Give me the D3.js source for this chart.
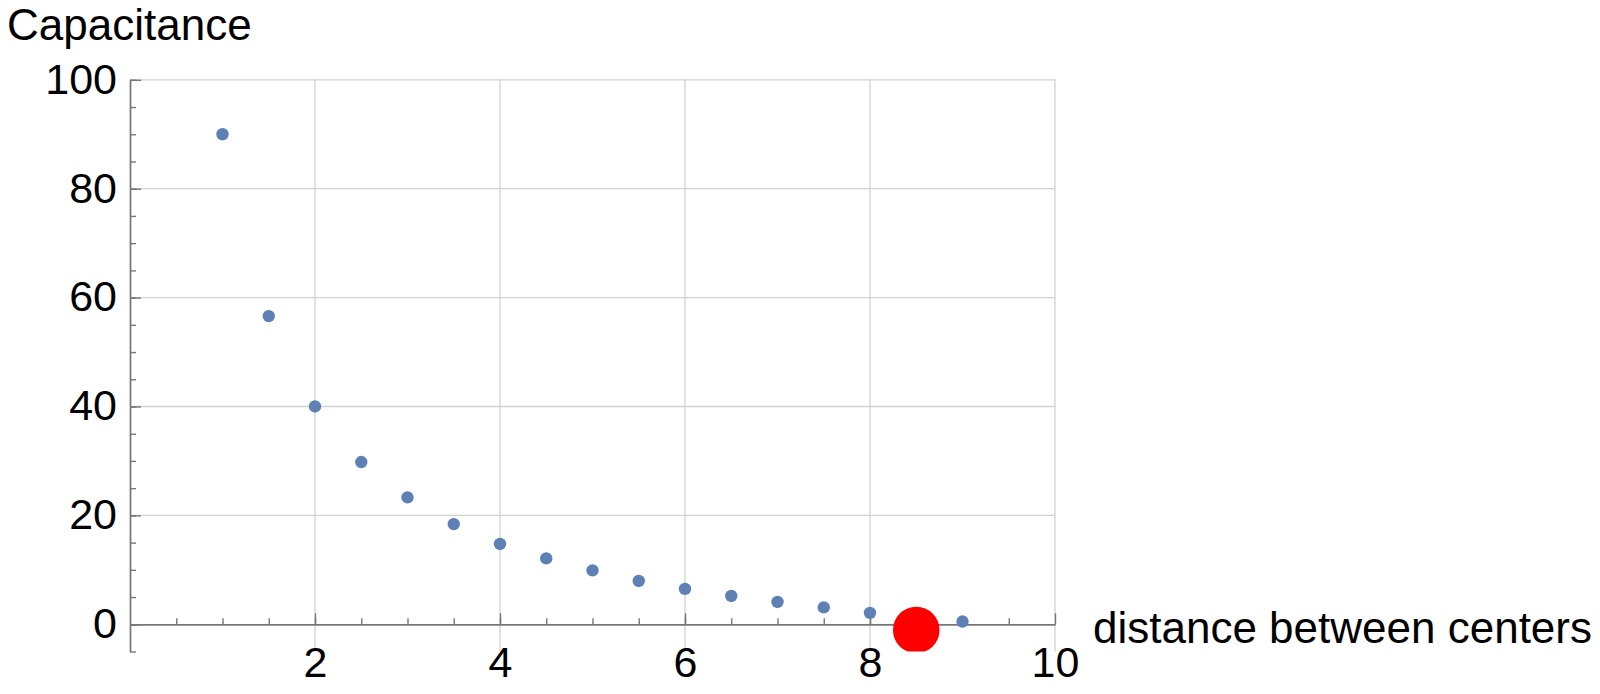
<!DOCTYPE html>
<html>
<head>
<meta charset="utf-8">
<script src="https://cdn.jsdelivr.net/npm/d3@7"></script>
<style>
  body { margin: 0; background: #fff; }
  svg { display: block; font-family: "Liberation Sans", Arial, sans-serif; }
</style>
</head>
<body>
<svg id="chart"></svg>
<script>
// distance between centers vs capacitance
var distances = [1, 1.5, 2, 2.5, 3, 3.5, 4, 4.5, 5, 5.5, 6, 6.5, 7, 7.5, 8, 9];
var capacitance = [90, 56.6, 40, 29.8, 23.3, 18.4, 14.75, 12.1, 9.9, 7.95, 6.5, 5.2, 4.1, 3.1, 2.1, 0.5];

// the highlighted point
var markedDistance = [8.5];
var markedCapacitance = [-1.05];

var xMajorTicks = [2, 4, 6, 8, 10];
var yMajorTicks = [0, 20, 40, 60, 80, 100];

var width = 1600,
    height = 694;

var svg = d3.select("#chart")
    .attr("width", width)
    .attr("height", height);

// scales
var x = d3.scaleLinear().domain([0, 10]).range([130, 1055]);
var y = d3.scaleLinear().domain([-5, 100]).range([651.5, 79.8]);

var axisColour = "#777",
    gridColour = "#d2d2d2";

// grid lines
svg.append("g")
    .selectAll("line")
    .data(xMajorTicks)
    .enter().append("line")
    .attr("x1", function (d) { return x(d); })
    .attr("x2", function (d) { return x(d); })
    .attr("y1", y(-5))
    .attr("y2", y(100))
    .attr("stroke", gridColour)
    .attr("stroke-width", 1.3);

svg.append("g")
    .selectAll("line")
    .data(yMajorTicks.filter(function (d) { return d > 0; }))
    .enter().append("line")
    .attr("x1", x(0))
    .attr("x2", x(10))
    .attr("y1", function (d) { return y(d); })
    .attr("y2", function (d) { return y(d); })
    .attr("stroke", gridColour)
    .attr("stroke-width", 1.3);

// minor ticks
var yMinor = d3.axisLeft(y)
    .tickValues(d3.range(-5, 101, 5))
    .tickSizeInner(-6)
    .tickSizeOuter(0)
    .tickFormat("");

var xMinor = d3.axisBottom(x)
    .tickValues(d3.range(0.5, 10, 0.5))
    .tickSizeInner(-6)
    .tickSizeOuter(0)
    .tickFormat("");

svg.append("g")
    .attr("transform", "translate(" + x(0) + ",0)")
    .call(yMinor);

svg.append("g")
    .attr("transform", "translate(0," + y(0) + ")")
    .call(xMinor);

// major ticks and labels
var yAxis = d3.axisLeft(y)
    .tickValues(yMajorTicks)
    .tickSizeInner(-11)
    .tickSizeOuter(0)
    .tickPadding(13);

var xAxis = d3.axisBottom(x)
    .tickValues(xMajorTicks)
    .tickSizeInner(-11)
    .tickSizeOuter(0)
    .tickPadding(22.5);

var gy = svg.append("g")
    .attr("transform", "translate(" + x(0) + ",0)")
    .call(yAxis);

var gx = svg.append("g")
    .attr("transform", "translate(0," + y(0) + ")")
    .call(xAxis);

svg.selectAll(".domain, .tick line")
    .attr("stroke", axisColour)
    .attr("stroke-width", 1.4);

svg.selectAll(".tick text")
    .attr("fill", "#000")
    .style("font-size", "43px");

gy.selectAll(".tick text").attr("dy", "0.31em");

// clip everything to the plot range
svg.append("clipPath")
    .attr("id", "plot-clip")
    .append("rect")
    .attr("x", x(0) - 30)
    .attr("y", y(100) - 10)
    .attr("width", x(10) - x(0) + 60)
    .attr("height", y(-5) - y(100) + 10);

var points = svg.append("g").attr("clip-path", "url(#plot-clip)");

points.selectAll("circle.pt")
    .data(distances)
    .enter().append("circle")
    .attr("class", "pt")
    .attr("cx", function (d) { return x(d); })
    .attr("cy", function (d, i) { return y(capacitance[i]); })
    .attr("r", 6.2)
    .attr("fill", "#5e81b5");

points.selectAll("circle.mark")
    .data(markedDistance)
    .enter().append("circle")
    .attr("class", "mark")
    .attr("cx", function (d) { return x(d); })
    .attr("cy", function (d, i) { return y(markedCapacitance[i]); })
    .attr("r", 23.3)
    .attr("fill", "#ff0000");

// axis labels
svg.append("text")
    .attr("x", 7)
    .attr("y", 39.5)
    .style("font-size", "44px")
    .attr("fill", "#000")
    .text("Capacitance");

svg.append("text")
    .attr("x", 1093)
    .attr("y", 643)
    .style("font-size", "44px")
    .attr("fill", "#000")
    .text("distance between centers");
</script>
</body>
</html>
